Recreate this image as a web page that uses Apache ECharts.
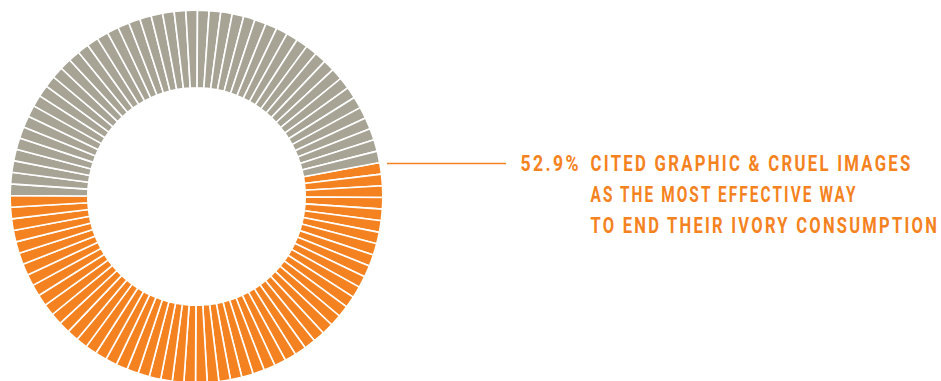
<!DOCTYPE html>
<html>
<head>
<meta charset="utf-8">
<script src="https://cdn.jsdelivr.net/npm/echarts@6/dist/echarts.min.js"></script>
<style>
html,body{margin:0;padding:0;background:#fff;}
#chart{width:941px;height:381px;}
#chart text{letter-spacing:3px;}
</style>
</head>
<body>
<div id="chart"></div>
<script>
// ---- data ----
const shareLabels = ['Graphic & cruel images', 'Other'];
const shareValues = [52.9, 47.1];       // percent
const segmentCount = 100;               // ring drawn as 100 one-percent ticks
const valueText = '52.9%';
const captionLines = [
  'CITED GRAPHIC & CRUEL IMAGES',
  'AS THE MOST EFFECTIVE WAY',
  'TO END THEIR IVORY CONSUMPTION'
];

// ---- styles ----
const ORANGE = '#F58220';
const GRAY = '#A7A496';
const LETTER_SP = 3; // must match CSS letter-spacing (local units, before scaling)

const highlighted = Math.round(shareValues[0] * segmentCount / 100);
const segments = [];
for (let i = 0; i < segmentCount; i++) {
  segments.push({
    name: (i < highlighted ? shareLabels[0] : shareLabels[1]) + ' ' + i,
    value: 1,
    itemStyle: { color: i < highlighted ? ORANGE : GRAY }
  });
}

const FONT = 'Roboto';
const FS = 22;
const fontStr = 'bold ' + FS + 'px ' + FONT + ', "DejaVu Sans", sans-serif';
const mctx = document.createElement('canvas').getContext('2d');
mctx.font = fontStr;
function textEl(text, x, y, targetW) {
  const w = mctx.measureText(text).width + LETTER_SP * (text.length - 1);
  return {
    type: 'text', x: x, y: y, scaleX: targetW / w, silent: true,
    style: { text: text, font: fontStr, fill: ORANGE, verticalAlign: 'middle', textVerticalAlign: 'middle', align: 'left' }
  };
}

const chart = echarts.init(document.getElementById('chart'), null, { renderer: 'svg' });
chart.setOption({
  animation: false,
  series: [{
    type: 'pie',
    silent: true,
    center: [196.5, 196.5],
    radius: [108.7, 186.3],
    startAngle: 10.5,
    clockwise: true,
    avoidLabelOverlap: false,
    label: { show: false },
    labelLine: { show: false },
    itemStyle: { borderColor: '#fff', borderWidth: 1.6 },
    emphasis: { disabled: true },
    data: segments
  }],
  graphic: [
    { type: 'line', silent: true, shape: { x1: 387, y1: 163.5, x2: 506, y2: 163.5 }, style: { stroke: ORANGE, lineWidth: 1.5 } },
    textEl(valueText, 520.5, 163.5, 58),
    textEl(captionLines[0], 590.5, 163.5, 320),
    textEl(captionLines[1], 590.5, 194.7, 266),
    textEl(captionLines[2], 590.5, 226, 347)
  ]
});
</script>
</body>
</html>
